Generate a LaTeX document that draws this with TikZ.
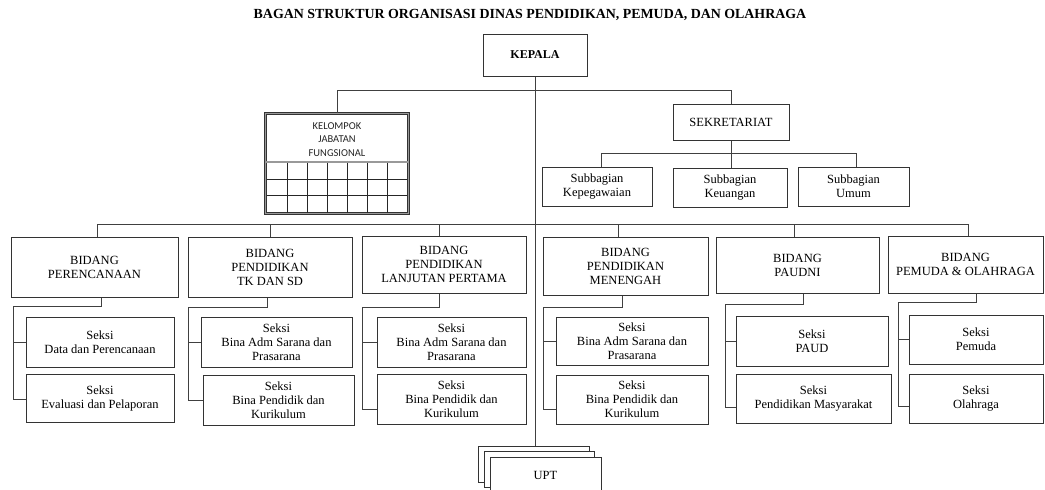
\documentclass[tikz,border=0pt]{standalone}
\usepackage{fontspec}
\setmainfont{Liberation Serif}
\newfontfamily\calfont{Carlito}
\begin{document}
\begin{tikzpicture}[x=1pt,y=-1pt,
  bx/.style={draw=black!80, line width=1pt, fill=white, align=center, inner sep=0pt, font=\fontsize{12.5}{14}\selectfont},
  ln/.style={draw=black!75, line width=0.9pt},
  kjfdbl/.style={draw=black!80, double=black!40, double distance=1.4pt, line width=0.7pt},
  grid/.style={draw=black!85, line width=0.6pt}
]
\useasboundingbox (0,0) rectangle (1045,490);
\fill[white] (0,0) rectangle (1045,490);

% title
\node[font=\bfseries\fontsize{13.9}{15}\selectfont] (title) at (530,15) {BAGAN STRUKTUR ORGANISASI DINAS PENDIDIKAN, PEMUDA, DAN OLAHRAGA};

% kepala
\node[bx, minimum width=104, minimum height=42, font=\bfseries\fontsize{12}{14}\selectfont] (kep) at (535,55) {KEPALA};

% kelompok jabatan fungsional
\node[kjfdbl, minimum width=143, minimum height=100, inner sep=0pt] (kjf) at (337,163.5) {};
\draw[kjfdbl] (265.5,162) -- (408.5,162);
\foreach \gx in {287,307,327,347,367,387} \draw[grid] (\gx,163.3) -- (\gx,212.7);
\foreach \gy in {179,195} \draw[grid] (266.8,\gy) -- (407.2,\gy);
\node[font=\calfont\fontsize{10.5}{13.5}\selectfont, align=center, text=black!85] (kjft) at (337,139.5) {KELOMPOK\\JABATAN\\FUNGSIONAL};

% sekretariat
\node[bx, minimum width=116, minimum height=36] (sek) at (731,122) {SEKRETARIAT};
\node[bx, minimum width=110, minimum height=39] (sub1) at (597,186.5) {Subbagian\\Kepegawaian};
\node[bx, minimum width=114, minimum height=39] (sub2) at (730,187.5) {Subbagian\\Keuangan};
\node[bx, minimum width=111, minimum height=39] (sub3) at (853.5,186.5) {Subbagian\\Umum};

% bidang
\node[bx, minimum width=167, minimum height=60] (b1) at (94.5,267) {BIDANG\\PERENCANAAN};
\node[bx, minimum width=164, minimum height=60] (b2) at (270,267) {BIDANG\\PENDIDIKAN\\TK DAN SD};
\node[bx, minimum width=164, minimum height=57] (b3) at (444,264.5) {BIDANG\\PENDIDIKAN\\LANJUTAN PERTAMA};
\node[bx, minimum width=165, minimum height=58] (b4) at (625.5,266) {BIDANG\\PENDIDIKAN\\MENENGAH};
\node[bx, minimum width=163, minimum height=56] (b5) at (797.5,265) {BIDANG\\PAUDNI};
\node[bx, minimum width=155, minimum height=57] (b6) at (965.5,264.5) {BIDANG\\PEMUDA \& OLAHRAGA};

% seksi
\node[bx, minimum width=148, minimum height=50] (s1a) at (100,342) {Seksi\\Data dan Perencanaan};
\node[bx, minimum width=148, minimum height=48] (s1b) at (100,398) {Seksi\\Evaluasi dan Pelaporan};
\node[bx, minimum width=151, minimum height=50] (s2a) at (276.5,342) {Seksi\\Bina Adm Sarana dan\\Prasarana};
\node[bx, minimum width=151, minimum height=50] (s2b) at (278.5,400) {Seksi\\Bina Pendidik dan\\Kurikulum};
\node[bx, minimum width=149, minimum height=50] (s3a) at (451.5,342) {Seksi\\Bina Adm Sarana dan\\Prasarana};
\node[bx, minimum width=149, minimum height=50] (s3b) at (451.5,399) {Seksi\\Bina Pendidik dan\\Kurikulum};
\node[bx, minimum width=152, minimum height=48] (s4a) at (632,341) {Seksi\\Bina Adm Sarana dan\\Prasarana};
\node[bx, minimum width=152, minimum height=49] (s4b) at (632,399.5) {Seksi\\Bina Pendidik dan\\Kurikulum};
\node[bx, minimum width=152, minimum height=50] (s5a) at (812,341) {Seksi\\PAUD};
\node[bx, minimum width=155, minimum height=49] (s5b) at (813.5,398.5) {Seksi\\Pendidikan Masyarakat};
\node[bx, minimum width=134, minimum height=49] (s6a) at (976,339.5) {Seksi\\Pemuda};
\node[bx, minimum width=134, minimum height=49] (s6b) at (976,398.5) {Seksi\\Olahraga};

% UPT
\node[bx, minimum width=111, minimum height=36] (upt1) at (534,464) {};
\node[bx, minimum width=110, minimum height=36] (upt2) at (539.5,469) {};
\node[bx, minimum width=111, minimum height=36] (upt3) at (545.5,475) {UPT};

% connectors: top
\coordinate (hA) at (337,90);
\coordinate (hB) at (731,90);
\draw[ln] (kjf.north) -- (hA) -- (hB) -- (sek.north);
\draw[ln] (kep.south) -- (kep.south |- upt1.north);

% sekretariat subline
\coordinate (sA) at (601,153);
\coordinate (sB) at (856,153);
\draw[ln] (sA |- sub1.north) -- (sA) -- (sB) -- (sB |- sub3.north);
\draw[ln] (sek.south) -- (sek.south |- sub2.north);

% bidang line
\coordinate (t1) at (97,224);
\coordinate (t2) at (270,224);
\coordinate (t3) at (439,224);
\coordinate (t4) at (618,224);
\coordinate (t5) at (794,224);
\coordinate (t6) at (968,224);
\draw[ln] (t1) -- (t6);
\foreach \i in {1,...,6} \draw[ln] (t\i) -- (t\i |- b\i.north);

% column connectors
\coordinate (k1) at (101,306); \coordinate (l1) at (13,306);
\coordinate (k2) at (267,307); \coordinate (l2) at (188,307);
\coordinate (k3) at (439,307); \coordinate (l3) at (362,307);
\coordinate (k4) at (622,307); \coordinate (l4) at (543,307);
\coordinate (k5) at (803,304); \coordinate (l5) at (725,304);
\coordinate (k6) at (976,302); \coordinate (l6) at (898,302);
\coordinate (e1) at (13,399);
\coordinate (e2) at (188,400);
\coordinate (e3) at (362,409);
\coordinate (e4) at (543,409);
\coordinate (e5) at (725,407);
\coordinate (e6) at (898,406);
\foreach \i in {1,...,6} {
  \draw[ln] (k\i |- b\i.south) -- (k\i) -- (l\i) -- (e\i) -- (e\i -| s\i b.west);
  \draw[ln] (l\i |- s\i a.west) -- (s\i a.west);
}
\end{tikzpicture}
\end{document}
